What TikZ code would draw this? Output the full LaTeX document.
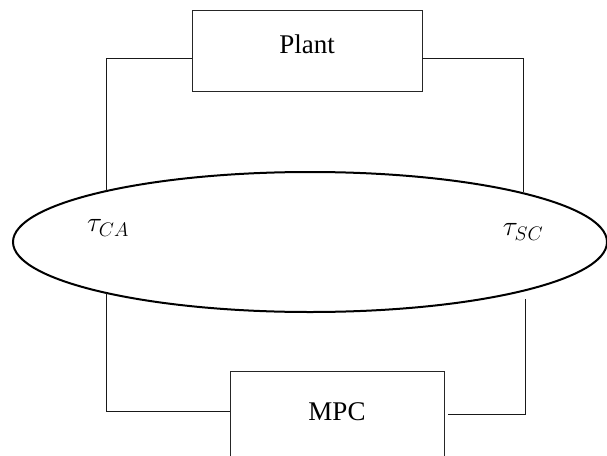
\RequirePackage{fix-cm}
\documentclass[tikz,border=0pt]{standalone}
\usepackage{fontspec}
\setmainfont{Liberation Serif}
\usetikzlibrary{shapes.geometric}
\tikzset{
  boxnode/.style={draw=black!85, line width=0.8pt, rectangle, inner sep=0pt,
    font=\fontsize{27}{30}\selectfont},
  conn/.style={draw=black!90, line width=0.8pt},
  ringnode/.style={draw=black, line width=2pt, ellipse, inner sep=0pt},
  delay/.style={inner sep=0pt, font=\fontsize{28}{32}\selectfont}
}
\begin{document}
\begin{tikzpicture}[x=1pt,y=-1pt]
\useasboundingbox (0,0) rectangle (607,455);
\clip (0,0) rectangle (607,455);
\node[boxnode, minimum width=230pt, minimum height=81pt, text depth=13pt] (plant) at (307,50.5) {Plant};
\node[boxnode, minimum width=214pt, minimum height=100pt, text depth=19pt] (mpc) at (337,421) {MPC};
\node[ringnode, minimum width=594pt, minimum height=140pt] (net) at (310,242) {};
\node[delay] (tca) at (108,228) {$\tau_{CA}$};
\node[delay] (tsc) at (523,232) {$\tau_{SC}$};
\coordinate (a1) at (106,191);
\coordinate (a2) at (523,192);
\coordinate (b1) at (106,293);
\coordinate (b2) at (525,299);
\coordinate (m2) at (448,414);
\draw[conn] ([yshift=-7.5pt]plant.west) -| (a1);
\draw[conn] ([yshift=-7.5pt]plant.east) -| (a2);
\draw[conn] (b1) |- ([yshift=10pt]mpc.west);
\draw[conn] (m2) -| (b2);
\end{tikzpicture}
\end{document}
